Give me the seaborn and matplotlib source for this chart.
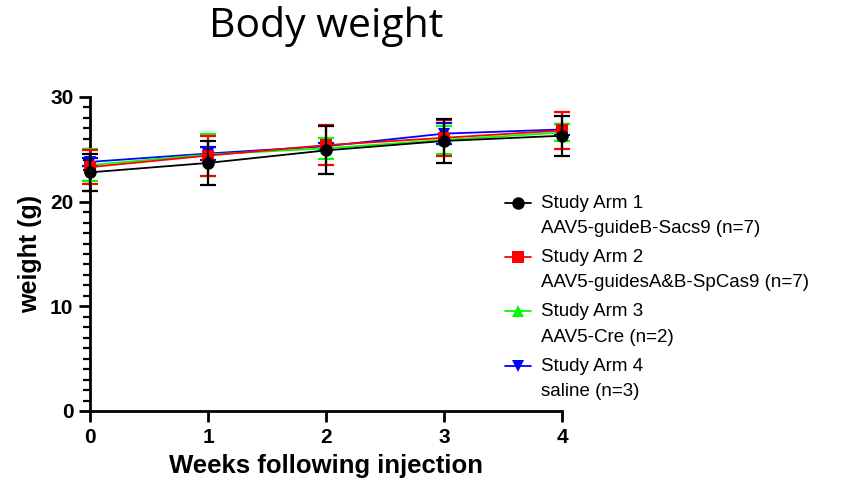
import matplotlib
matplotlib.use("Agg")
import matplotlib.pyplot as plt
from matplotlib.ticker import MultipleLocator
from matplotlib.legend_handler import HandlerLine2D
import numpy as np
import pandas as pd
import seaborn as sns

# Group means and SD (g) at each week after injection
weeks = [0, 1, 2, 3, 4]
arm_labels = [
    "Study Arm 1\nAAV5-guideB-Sacs9 (n=7)",
    "Study Arm 2\nAAV5-guidesA&B-SpCas9 (n=7)",
    "Study Arm 3\nAAV5-Cre (n=2)",
    "Study Arm 4\nsaline (n=3)",
]
arm1_mean = [22.8, 23.7, 24.9, 25.8, 26.3]
arm1_sd = [1.8, 2.1, 2.3, 2.1, 1.9]
arm2_mean = [23.3, 24.4, 25.4, 26.1, 26.8]
arm2_sd = [1.6, 1.9, 1.9, 1.7, 1.75]
arm3_mean = [23.5, 24.5, 25.1, 25.9, 26.6]
arm3_sd = [1.5, 2.0, 1.0, 1.3, 0.85]
arm4_mean = [23.8, 24.6, 25.3, 26.5, 26.9]
arm4_sd = [0.4, 0.6, 0.3, 1.0, 0.5]

colors = ["#000000", "#ff0000", "#00ff00", "#0000ff"]
markers = ["o", "s", "^", "v"]

sns.set_theme(style="ticks")
plt.rcParams["font.family"] = ["Liberation Sans", "DejaVu Sans"]
plt.rcParams["text.color"] = "black"
plt.rcParams["axes.labelcolor"] = "black"
plt.rcParams["xtick.color"] = "black"
plt.rcParams["ytick.color"] = "black"

means = [arm1_mean, arm2_mean, arm3_mean, arm4_mean]
sds = [arm1_sd, arm2_sd, arm3_sd, arm4_sd]

df = pd.DataFrame({
    "week": weeks * 4,
    "weight": sum(means, []),
    "sd": sum(sds, []),
    "arm": sum([[lab] * len(weeks) for lab in arm_labels], []),
})


class FirstLineHandler(HandlerLine2D):
    """Legend handle placed beside the first line of a two-line label."""
    shift = 9.5  # points

    def create_artists(self, legend, orig_handle, xdescent, ydescent,
                       width, height, fontsize, trans):
        return super().create_artists(legend, orig_handle, xdescent,
                                      ydescent - 2 * self.shift,
                                      width, height, fontsize, trans)


fig = plt.figure(figsize=(8.56, 4.88), dpi=100)
ax = fig.add_axes([90 / 856, 1 - 411 / 488, 472 / 856, 314 / 488])

# draw saline first so Arm 1 ends up on top
for i in [3, 2, 1, 0]:
    lab = arm_labels[i]
    sub = df[df["arm"] == lab]
    ax.errorbar(sub["week"], sub["weight"], yerr=sub["sd"], fmt="none",
                ecolor=colors[i], elinewidth=1.6, capsize=6, capthick=1.6,
                clip_on=False, zorder=2 + (3 - i))
    sns.lineplot(data=sub, x="week", y="weight", ax=ax, color=colors[i],
                 marker=markers[i], markersize=9, markeredgewidth=0,
                 linewidth=1.3, label=lab, clip_on=False,
                 zorder=2.5 + (3 - i), errorbar=None)

ax.set_xlim(0, 4)
ax.set_ylim(0, 30)
ax.xaxis.set_major_locator(MultipleLocator(1))
ax.yaxis.set_major_locator(MultipleLocator(10))
ax.yaxis.set_minor_locator(MultipleLocator(1))
for s in ["top", "right"]:
    ax.spines[s].set_visible(False)
for s in ["left", "bottom"]:
    ax.spines[s].set_linewidth(2)
    ax.spines[s].set_color("black")
ax.tick_params(axis="both", which="major", length=8, width=2, color="black",
               labelsize=15, pad=4)
ax.tick_params(axis="y", which="minor", length=5, width=1.6, color="black")
for t in ax.get_xticklabels() + ax.get_yticklabels():
    t.set_fontweight("bold")

ax.set_xlabel("Weeks following injection", fontsize=18.5, fontweight="bold", labelpad=5)
ax.set_ylabel("weight (g)", fontsize=18, fontweight="bold", labelpad=6)

handles, labels = ax.get_legend_handles_labels()
order = [labels.index(l) for l in arm_labels]
leg = ax.legend([handles[k] for k in order], [labels[k] for k in order],
                loc="upper left", bbox_to_anchor=(505 / 856, 1 - 195 / 488),
                bbox_transform=fig.transFigure, frameon=False, fontsize=13.5,
                handlelength=1.4, handletextpad=0.5, labelspacing=0.65,
                borderaxespad=0, borderpad=0,
                handler_map={matplotlib.lines.Line2D: FirstLineHandler()})
for t in leg.get_texts():
    t.set_linespacing(1.62)

fig.text(326.5 / 856, 1 - 37 / 488, "Body weight", ha="center", va="baseline",
         fontsize=29.5, color="black", family=["Open Sans", "DejaVu Sans"])

fig.savefig("out.png", dpi=100)
